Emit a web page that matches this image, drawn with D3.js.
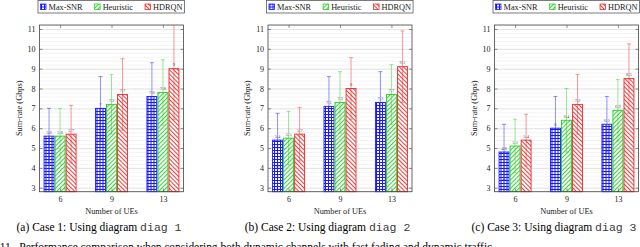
<!DOCTYPE html>
<html>
<head>
<meta charset="utf-8">
<script src="https://cdn.jsdelivr.net/npm/d3@7"></script>
<style>
  body { margin: 0; background: #fff; }
  svg { display: block; }
  svg text { font-family: "Liberation Serif", "DejaVu Serif", "Times New Roman", serif; }
  svg text tspan.mono { font-family: "Liberation Mono", "DejaVu Sans Mono", monospace; fill: #3a3a3a; }
</style>
</head>
<body>
<script>
// categories / series
const categories = ['6', '9', '13'];
const series = ['Max-SNR', 'Heuristic', 'HDRQN'];
const yTickValues = [3, 4, 5, 6, 7, 8, 9, 10, 11];

// mean sum-rate per series (rows follow `series`, columns follow `categories`)
const case1Means = [[5.6, 7.0, 7.6], [5.6, 7.2, 7.8], [5.7, 7.7, 9.0]];
const case1Errs  = [[1.4, 1.6, 1.7], [1.4, 1.5, 1.65], [1.45, 1.8, 2.55]];
const case2Means = [[5.4, 7.1, 7.3], [5.5, 7.3, 7.7], [5.7, 8.0, 9.1]];
const case2Errs  = [[1.35, 1.5, 1.55], [1.35, 1.55, 1.5], [1.35, 1.55, 1.8]];
const case3Means = [[4.8, 6.0, 6.2], [5.1, 6.4, 6.9], [5.4, 7.2, 8.5]];
const case3Errs  = [[1.4, 1.6, 1.4], [1.35, 1.6, 1.55], [1.3, 1.5, 1.75]];

const captionText = ['(a) Case 1: Using diagram ', '(b) Case 2: Using diagram ', '(c) Case 3: Using diagram '];
const captionCode = ['diag 1', 'diag 2', 'diag 3'];

const cases = [
    { means: case1Means, errs: case1Errs },
    { means: case2Means, errs: case2Errs },
    { means: case3Means, errs: case3Errs }
];

const serif = '"Liberation Serif", "DejaVu Serif", "Times New Roman", serif';

const params = {
    panelLeft: [39.5, 268, 494.5],
    plotWidth: 144,
    top: 25,
    bottom: 191.7,
    colors: ['#1a1aff', '#22d022', '#ee2a2a'],
    patterns: ['pat-dots', 'pat-ne', 'pat-nw']
};

const svg = d3.select('body').append('svg')
    .attr('width', 640)
    .attr('height', 247)
    .attr('font-family', serif);

const defs = svg.append('defs');

// crosshatch dots for Max-SNR
const pDots = defs.append('pattern')
    .attr('id', 'pat-dots')
    .attr('patternUnits', 'userSpaceOnUse')
    .attr('width', 3).attr('height', 3);
pDots.append('rect').attr('width', 3).attr('height', 1).attr('fill', params.colors[0]);
pDots.append('rect').attr('width', 1).attr('height', 3).attr('fill', params.colors[0]);

// north east lines / north west lines
[['pat-ne', 45, params.colors[1]], ['pat-nw', -45, params.colors[2]]].forEach(([id, rot, c]) => {
    const p = defs.append('pattern')
        .attr('id', id)
        .attr('patternUnits', 'userSpaceOnUse')
        .attr('width', 3).attr('height', 3)
        .attr('patternTransform', `rotate(${rot})`);
    p.append('rect').attr('width', 0.9).attr('height', 3).attr('fill', c);
});

const y = d3.scaleLinear()
    .domain([2.8, 11.2])
    .range([params.bottom, params.top]);

const fmt = v => String(+v.toFixed(1));

cases.forEach((c, i) => drawPanel(c, i));

function drawPanel(c, i) {
    const left = params.panelLeft[i];
    const w = params.plotWidth;
    const h = params.bottom - params.top;

    const g = svg.append('g').attr('transform', `translate(${left},0)`);

    const x = d3.scalePoint()
        .domain(categories)
        .range([0, w])
        .padding(0.4);

    const x1 = d3.scaleBand()
        .domain(series)
        .range([-16, 16])
        .paddingInner(0.1);

    const clipId = `clip-${i}`;
    defs.append('clipPath').attr('id', clipId)
        .append('rect')
        .attr('x', left).attr('y', params.top)
        .attr('width', w).attr('height', h);

    // grid
    const minor = d3.range(2.8, 11.21, 0.2).map(v => +v.toFixed(1));
    g.append('g')
        .call(d3.axisLeft(y).tickValues(minor).tickSize(-w).tickFormat(''))
        .call(s => s.select('.domain').remove())
        .call(s => s.selectAll('line').attr('stroke', '#ececec').attr('stroke-width', 0.6));
    g.append('g')
        .call(d3.axisLeft(y).tickValues(yTickValues).tickSize(-w).tickFormat(''))
        .call(s => s.select('.domain').remove())
        .call(s => s.selectAll('line').attr('stroke', '#d6d6d6').attr('stroke-width', 0.6));

    // bars
    const bars = [];
    series.forEach((s, si) => {
        categories.forEach((cat, ci) => {
            bars.push({ s, si, cat, mean: c.means[si][ci], err: c.errs[si][ci] });
        });
    });

    g.append('g')
        .selectAll('rect')
        .data(bars)
        .enter()
        .append('rect')
        .attr('x', d => x(d.cat) + x1(d.s))
        .attr('y', d => y(d.mean))
        .attr('width', x1.bandwidth())
        .attr('height', d => params.bottom - y(d.mean))
        .attr('fill', d => `url(#${params.patterns[d.si]})`)
        .attr('stroke', d => params.colors[d.si])
        .attr('stroke-width', 0.9);

    // error bars
    const cx = d => x(d.cat) + x1(d.s) + x1.bandwidth() / 2;
    const eg = svg.append('g')
        .attr('clip-path', `url(#${clipId})`)
        .append('g')
        .attr('transform', `translate(${left},0)`)
        .selectAll('g')
        .data(bars)
        .enter()
        .append('g')
        .attr('stroke', d => params.colors[d.si])
        .attr('stroke-opacity', 0.6)
        .attr('stroke-width', 0.8);

    eg.append('line')
        .attr('x1', cx).attr('x2', cx)
        .attr('y1', d => y(d.mean - d.err))
        .attr('y2', d => y(d.mean + d.err));
    eg.append('line')
        .attr('x1', d => cx(d) - 2).attr('x2', d => cx(d) + 2)
        .attr('y1', d => y(d.mean + d.err)).attr('y2', d => y(d.mean + d.err));
    eg.append('line')
        .attr('x1', d => cx(d) - 2).attr('x2', d => cx(d) + 2)
        .attr('y1', d => y(d.mean - d.err)).attr('y2', d => y(d.mean - d.err));

    // value labels
    g.append('g')
        .selectAll('text')
        .data(bars)
        .enter()
        .append('text')
        .attr('x', cx)
        .attr('y', d => y(d.mean) - 2.5)
        .attr('text-anchor', 'middle')
        .attr('font-size', 4.6)
        .attr('fill', '#555')
        .text(d => fmt(d.mean));

    // frame
    g.append('rect')
        .attr('x', 0).attr('y', params.top)
        .attr('width', w).attr('height', h)
        .attr('fill', 'none')
        .attr('stroke', '#444')
        .attr('stroke-width', 0.8);

    // y axis left
    g.append('g')
        .call(d3.axisLeft(y).tickValues(yTickValues).tickSize(-3).tickSizeOuter(0).tickPadding(4))
        .attr('font-family', serif)
        .attr('font-size', 8)
        .call(s => s.select('.domain').remove())
        .call(s => s.selectAll('line').attr('stroke', '#444').attr('stroke-width', 0.6))
        .call(s => s.selectAll('text').attr('fill', '#222'));

    // y axis right (ticks only)
    g.append('g')
        .attr('transform', `translate(${w},0)`)
        .call(d3.axisRight(y).tickValues(yTickValues).tickSize(-3).tickSizeOuter(0).tickFormat(''))
        .call(s => s.select('.domain').remove())
        .call(s => s.selectAll('line').attr('stroke', '#444').attr('stroke-width', 0.6));

    // x axis bottom
    g.append('g')
        .attr('transform', `translate(0,${params.bottom})`)
        .call(d3.axisBottom(x).tickSize(-3).tickSizeOuter(0).tickPadding(5))
        .attr('font-family', serif)
        .attr('font-size', 8)
        .call(s => s.select('.domain').remove())
        .call(s => s.selectAll('line').attr('stroke', '#444').attr('stroke-width', 0.6))
        .call(s => s.selectAll('text').attr('fill', '#222'));

    // x axis top (ticks only)
    g.append('g')
        .attr('transform', `translate(0,${params.top})`)
        .call(d3.axisTop(x).tickSize(-3).tickSizeOuter(0).tickFormat(''))
        .call(s => s.select('.domain').remove())
        .call(s => s.selectAll('line').attr('stroke', '#444').attr('stroke-width', 0.6));

    // axis titles
    g.append('text')
        .attr('x', w / 2)
        .attr('y', 213.5)
        .attr('text-anchor', 'middle')
        .attr('font-size', 8.3)
        .attr('fill', '#222')
        .text('Number of UEs');

    g.append('text')
        .attr('transform', `translate(-18,${(params.top + params.bottom) / 2}) rotate(-90)`)
        .attr('text-anchor', 'middle')
        .attr('font-size', 8.3)
        .attr('fill', '#222')
        .text('Sum-rate (Gbps)');

    // caption
    const cap = g.append('text')
        .attr('x', w / 2 - 12.5)
        .attr('y', 231)
        .attr('text-anchor', 'middle')
        .attr('font-size', 11.5)
        .attr('fill', '#000');
    cap.append('tspan').text(captionText[i]);
    cap.append('tspan').attr('class', 'mono').text(captionCode[i]);

    // legend
    const lg = g.append('g').attr('transform', `translate(-1.5,0.5)`);
    const box = lg.append('rect')
        .attr('y', 0).attr('height', 12.5)
        .attr('fill', '#fff')
        .attr('stroke', '#444')
        .attr('stroke-width', 0.7);
    let cursor = 2.5;
    series.forEach((s, si) => {
        lg.append('rect')
            .attr('x', cursor).attr('y', 3.5)
            .attr('width', 5.5).attr('height', 5.5)
            .attr('fill', `url(#${params.patterns[si]})`)
            .attr('stroke', params.colors[si])
            .attr('stroke-width', 0.8);
        const t = lg.append('text')
            .attr('x', cursor + 8)
            .attr('y', 9.3)
            .attr('font-size', 8.3)
            .attr('fill', '#222')
            .text(s);
        cursor += 8 + t.node().getComputedTextLength() + (si < series.length - 1 ? 12 : 2);
    });
    box.attr('width', Math.max(cursor, w + 2.5));
}

// figure caption line (cut off at the bottom, as in the source page)
const probe = svg.append('text').attr('font-size', 11.5).text('Fig.\u00a0');
const figOffset = probe.node().getComputedTextLength();
probe.remove();
svg.append('text')
    .attr('x', -figOffset)
    .attr('y', 250.5)
    .attr('font-size', 11.5)
    .attr('fill', '#000')
    .attr('textLength', figOffset + 495)
    .attr('lengthAdjust', 'spacing')
    .text('Fig.\u00a011.\u00a0\u00a0Performance comparison when considering both dynamic channels with fast fading and dynamic traffic.');
</script>
</body>
</html>
